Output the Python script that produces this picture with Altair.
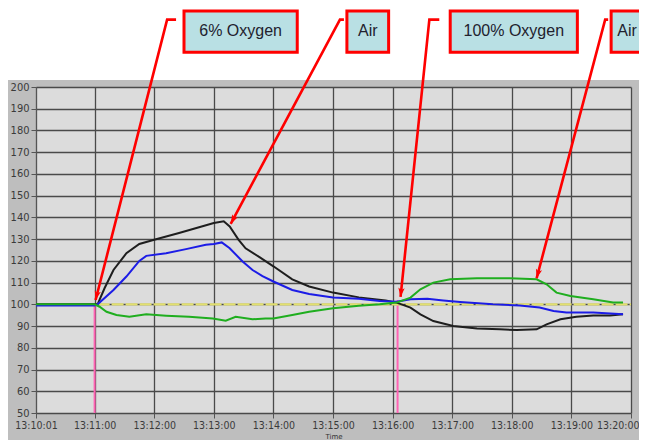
import altair as alt
import pandas as pd

DAY = "2020-01-01T"

# ---- data series (time, value) ----
black_t = ["13:10:01", "13:11:00", "13:11:03", "13:11:10", "13:11:19", "13:11:32", "13:11:45",
           "13:12:00", "13:12:25", "13:13:00", "13:13:10", "13:13:16", "13:13:25", "13:13:32",
           "13:13:46", "13:14:00", "13:14:19", "13:14:36", "13:15:00", "13:15:26", "13:15:53",
           "13:16:04", "13:16:18", "13:16:28", "13:16:41", "13:17:01", "13:17:25", "13:17:48",
           "13:18:05", "13:18:25", "13:18:35", "13:18:49", "13:19:05", "13:19:22", "13:19:39",
           "13:19:52"]
black_v = [100, 100, 100, 107.4, 115.8, 123.5, 127.8,
           129.7, 132.8, 137.4, 138.2, 135.8, 129.7, 125.8,
           121.7, 117.5, 111.5, 108.2, 105.4, 103.2, 101.8,
           100.8, 98.5, 95.4, 92.3, 90.0, 88.9, 88.5,
           88.2, 88.5, 90.8, 93.1, 94.3, 94.9, 94.9,
           95.4]

blue_t = ["13:10:01", "13:11:00", "13:11:03", "13:11:19", "13:11:32", "13:11:45", "13:11:52",
          "13:12:12", "13:12:32", "13:12:52", "13:13:00", "13:13:08", "13:13:16", "13:13:29",
          "13:13:39", "13:13:49", "13:14:00", "13:14:19", "13:14:36", "13:15:00", "13:15:26",
          "13:15:47", "13:16:04", "13:16:18", "13:16:35", "13:16:51", "13:17:08", "13:17:41",
          "13:18:08", "13:18:28", "13:18:42", "13:18:55", "13:19:22", "13:19:52"]
blue_v = [99.5, 99.5, 100, 106.6, 112.8, 120.0, 122.3,
          123.5, 125.4, 127.4, 127.8, 128.5, 125.8, 119.7,
          115.8, 113.0, 110.5, 106.6, 104.8, 103.2, 102.6,
          101.5, 101.2, 102.3, 102.6, 101.8, 101.1, 100.0,
          99.5, 98.5, 96.9, 96.2, 96.2, 95.4]

green_t = ["13:10:01", "13:11:00", "13:11:05", "13:11:12", "13:11:22", "13:11:35", "13:11:52",
           "13:12:12", "13:12:35", "13:12:59", "13:13:12", "13:13:22", "13:13:39", "13:13:52",
           "13:14:00", "13:14:19", "13:14:36", "13:15:00", "13:15:26", "13:15:47", "13:16:04",
           "13:16:18", "13:16:28", "13:16:41", "13:16:58", "13:17:25", "13:17:58", "13:18:25",
           "13:18:35", "13:18:45", "13:18:59", "13:19:22", "13:19:42", "13:19:52"]
green_v = [100, 100, 98.9, 96.6, 95.1, 94.3, 95.4,
           94.8, 94.3, 93.5, 92.5, 94.3, 93.1, 93.5,
           93.5, 95.1, 96.6, 98.2, 99.4, 100.0, 100.8,
           103.1, 106.9, 110.0, 111.5, 112.0, 112.0, 111.5,
           109.2, 105.4, 103.8, 102.3, 100.8, 100.8]

series_names = ["Black", "Blue", "Green"]
series_colors = ["#1e1e1e", "#1c1ce6", "#1fae1f"]

# ---- markers ----
pink_t = ["13:11:00", "13:16:05"]
pink_top = [100, 102]
baseline_t = ["13:11:03", "13:20:00"]
baseline_v = 100

# ---- annotations ----
box_labels = ["6% Oxygen", "Air", "100% Oxygen", "Air"]
box_t0 = ["13:12:30", "13:15:14", "13:16:58", "13:19:40"]
box_t1 = ["13:14:24", "13:15:56", "13:19:06", "13:20:22"]
box_tc = ["13:13:27", "13:15:35", "13:18:02", "13:19:56"]
box_lo, box_hi, box_mid = 216, 235, 225.8

arrow_t = [["13:12:22", "13:12:13", "13:11:01"],
           ["13:15:11", "13:15:07", "13:13:17"],
           ["13:16:47", "13:16:37", "13:16:08"],
           ["13:19:37", "13:19:34", "13:18:25"]]
arrow_v = [[231, 231, 102], [231, 231, 137], [231, 231, 103.4], [231, 231, 112]]
arrow_angle = [14, 28, 6, 15]

y_ticks = list(range(50, 201, 10))
x_tick_times = ["13:10:01"] + ["13:%02d:00" % m for m in range(11, 21)]


def dt(s):
    h, m, sec = [int(p) for p in s.split(":")]
    return alt.DateTime(year=2020, month=1, date=1, hours=h, minutes=m, seconds=sec)


# ---- tables ----
rows = []
for name, ts, vs in [("Black", black_t, black_v), ("Blue", blue_t, blue_v), ("Green", green_t, green_v)]:
    for t, v in zip(ts, vs):
        rows.append({"t": DAY + t, "v": v, "series": name})
lines_df = pd.DataFrame(rows)

pink_df = pd.DataFrame({"t": [DAY + t for t in pink_t], "top": pink_top, "bot": [50] * len(pink_t)})
base_df = pd.DataFrame({"t": [DAY + baseline_t[0]], "t2": [DAY + baseline_t[1]], "v": [baseline_v]})
box_df = pd.DataFrame({"t0": [DAY + t for t in box_t0], "t1": [DAY + t for t in box_t1],
                       "tc": [DAY + t for t in box_tc], "label": box_labels,
                       "lo": box_lo, "hi": box_hi, "mid": box_mid})
arow = []
for i, (ts, vs) in enumerate(zip(arrow_t, arrow_v)):
    for k, (t, v) in enumerate(zip(ts, vs)):
        arow.append({"a": i, "k": k, "t": DAY + t, "v": v})
arrow_df = pd.DataFrame(arow)
tip_df = pd.DataFrame({"t": [DAY + ts[-1] for ts in arrow_t], "v": [vs[-1] for vs in arrow_v],
                       "ang": arrow_angle})
top_df = pd.DataFrame({"t": [DAY + "13:08:00"], "t2": [DAY + "13:22:00"], "v": [203.2], "v2": [300]})

xscale = alt.Scale(domain=[dt("13:10:01"), dt("13:20:00")])
yscale = alt.Scale(domain=[50, 200], nice=False, zero=False)

xaxis = alt.Axis(values=[dt(t) for t in x_tick_times], format="%H:%M:%S", title="Time",
                 grid=True, gridColor="#4a4a4a", gridWidth=1.3, domain=False,
                 tickColor="#555555", tickSize=5, labelPadding=2, labelFlush=False,
                 labelOverlap=False,
                 labelAlign=alt.expr("datum.index == 1 ? 'right' : 'center'"),
                 labelOffset=alt.expr("datum.index == 1 ? 8 : 0"),
                 labelColor="#3a3a3a", labelFontSize=10.5, labelFont="DejaVu Sans Condensed",
                 titleFontSize=7, titleFont="DejaVu Sans", titleFontWeight="normal",
                 titleColor="#333333", titleBaseline="top", titleY=19)
yaxis = alt.Axis(values=y_ticks, title=None, grid=True, gridColor="#4a4a4a", gridWidth=1.3,
                 domainColor="#555555", tickColor="#555555", tickSize=5, labelPadding=2,
                 labelColor="#3a3a3a", labelFontSize=11, labelFont="DejaVu Sans Condensed",
                 labelFlush=False, labelOverlap=False)

X = lambda f: alt.X(f, type="temporal", scale=xscale, axis=xaxis)
Y = lambda f: alt.Y(f, type="quantitative", scale=yscale, axis=yaxis)

top_white = alt.Chart(top_df).mark_rect(color="white").encode(
    x=X("t"), x2="t2", y=Y("v"), y2="v2")

pink = alt.Chart(pink_df).mark_rule(color="#ff63b4", strokeWidth=2).encode(
    x=X("t"), y=Y("top"), y2="bot")

base = alt.Chart(base_df).mark_rule(color="#e2e070", strokeWidth=2.2, strokeDash=[12, 2]).encode(
    x=X("t"), x2="t2", y=Y("v"))

lines = alt.Chart(lines_df).mark_line(strokeWidth=2).encode(
    x=X("t"), y=Y("v"),
    color=alt.Color("series:N", scale=alt.Scale(domain=series_names, range=series_colors), legend=None))

arrows = alt.Chart(arrow_df).mark_line(color="#ff0000", strokeWidth=2.6).encode(
    x=X("t"), y=Y("v"), detail="a:N", order="k:Q")

heads = alt.Chart(tip_df).mark_point(
    shape="M0,0L-0.45,-1.3L0,-1.0L0.45,-1.3Z", filled=True, color="#ff0000", size=200, opacity=1
).encode(x=X("t"), y=Y("v"), angle=alt.Angle("ang:Q", scale=None))

boxes = alt.Chart(box_df).mark_rect(fill="#b9e0e4", stroke="#ff0000", strokeWidth=3).encode(
    x=X("t0"), x2="t1", y=Y("lo"), y2="hi")

texts = alt.Chart(box_df).mark_text(font="Liberation Sans", fontSize=16, color="#22222e",
                                    align="center", baseline="middle").encode(
    x=X("tc"), y=Y("mid"), text="label:N")

chart = alt.layer(top_white, pink, base, lines, arrows, heads, boxes, texts).properties(
    width=595, height=326,
    autosize=alt.AutoSizeParams(type="none"),
    padding={"left": 28, "top": 79, "right": 8, "bottom": 27},
    background="#bebebe",
).configure_view(fill="#dcdcdc", stroke="#e9e9e9", strokeWidth=1)

chart.save("out.html", embed_options={"renderer": "svg", "actions": False})
